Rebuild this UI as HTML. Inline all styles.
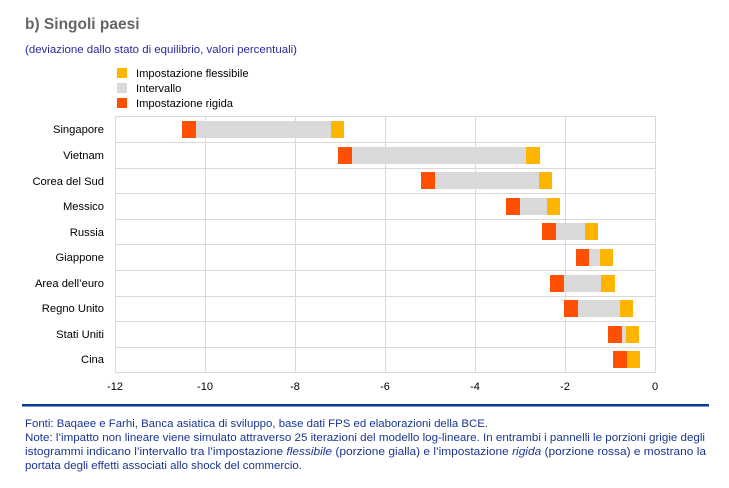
<!DOCTYPE html>
<html><head><meta charset="utf-8"><style>
body{margin:0;background:#fff;width:729px;height:483px;overflow:hidden;font-family:"Liberation Sans",sans-serif}
</style></head><body>
<svg width="729" height="483" xmlns="http://www.w3.org/2000/svg" font-family="Liberation Sans, sans-serif">
<text x="25" y="29" font-size="15.5" font-weight="bold" fill="#666">b) Singoli paesi</text>
<text x="25" y="53" font-size="11.4" fill="#2a2a9a" textLength="272" lengthAdjust="spacingAndGlyphs">(deviazione dallo stato di equilibrio, valori percentuali)</text>
<rect x="117" y="68" width="10" height="10" fill="#ffb400"/>
<text x="136" y="77" font-size="11.2" fill="#000">Impostazione flessibile</text>
<rect x="117" y="83" width="10" height="10" fill="#d9d9d9"/>
<text x="136" y="92" font-size="11.2" fill="#000">Intervallo</text>
<rect x="117" y="98" width="10" height="10" fill="#ff4f00"/>
<text x="136" y="107" font-size="11.2" fill="#000">Impostazione rigida</text>
<g stroke="#d9d9d9" stroke-width="1" fill="none">
<rect x="115.5" y="116.5" width="540" height="256"/>
<line x1="205.5" y1="116" x2="205.5" y2="373"/>
<line x1="295.5" y1="116" x2="295.5" y2="373"/>
<line x1="385.5" y1="116" x2="385.5" y2="373"/>
<line x1="475.5" y1="116" x2="475.5" y2="373"/>
<line x1="565.5" y1="116" x2="565.5" y2="373"/>
<line x1="115" y1="142.5" x2="655" y2="142.5"/>
<line x1="115" y1="168.5" x2="655" y2="168.5"/>
<line x1="115" y1="193.5" x2="655" y2="193.5"/>
<line x1="115" y1="219.5" x2="655" y2="219.5"/>
<line x1="115" y1="244.5" x2="655" y2="244.5"/>
<line x1="115" y1="270.5" x2="655" y2="270.5"/>
<line x1="115" y1="296.5" x2="655" y2="296.5"/>
<line x1="115" y1="321.5" x2="655" y2="321.5"/>
<line x1="115" y1="347.5" x2="655" y2="347.5"/>
</g>
<g font-size="11.2" fill="#000" text-anchor="end">
<text x="104" y="133">Singapore</text>
<text x="104" y="159">Vietnam</text>
<text x="104" y="185">Corea del Sud</text>
<text x="104" y="210">Messico</text>
<text x="104" y="236">Russia</text>
<text x="104" y="261">Giappone</text>
<text x="104" y="287">Area dell’euro</text>
<text x="104" y="312">Regno Unito</text>
<text x="104" y="338">Stati Uniti</text>
<text x="104" y="363">Cina</text>
</g>
<g>
<rect x="182" y="121" width="14" height="17" fill="#ff4f00"/><rect x="196" y="121" width="135" height="17" fill="#d9d9d9"/><rect x="331" y="121" width="13" height="17" fill="#ffb400"/>
<rect x="338" y="147" width="14" height="17" fill="#ff4f00"/><rect x="352" y="147" width="174" height="17" fill="#d9d9d9"/><rect x="526" y="147" width="14" height="17" fill="#ffb400"/>
<rect x="421" y="172" width="14" height="17" fill="#ff4f00"/><rect x="435" y="172" width="104" height="17" fill="#d9d9d9"/><rect x="539" y="172" width="13" height="17" fill="#ffb400"/>
<rect x="506" y="198" width="14" height="17" fill="#ff4f00"/><rect x="520" y="198" width="27" height="17" fill="#d9d9d9"/><rect x="547" y="198" width="13" height="17" fill="#ffb400"/>
<rect x="542" y="223" width="14" height="17" fill="#ff4f00"/><rect x="556" y="223" width="29" height="17" fill="#d9d9d9"/><rect x="585" y="223" width="13" height="17" fill="#ffb400"/>
<rect x="576" y="249" width="13" height="17" fill="#ff4f00"/><rect x="589" y="249" width="11" height="17" fill="#d9d9d9"/><rect x="600" y="249" width="13" height="17" fill="#ffb400"/>
<rect x="550" y="275" width="14" height="17" fill="#ff4f00"/><rect x="564" y="275" width="37" height="17" fill="#d9d9d9"/><rect x="601" y="275" width="14" height="17" fill="#ffb400"/>
<rect x="564" y="300" width="14" height="17" fill="#ff4f00"/><rect x="578" y="300" width="42" height="17" fill="#d9d9d9"/><rect x="620" y="300" width="13" height="17" fill="#ffb400"/>
<rect x="608" y="326" width="14" height="17" fill="#ff4f00"/><rect x="622" y="326" width="4" height="17" fill="#d9d9d9"/><rect x="626" y="326" width="13" height="17" fill="#ffb400"/>
<rect x="613" y="351" width="14" height="17" fill="#ff4f00"/><rect x="627" y="351" width="13" height="17" fill="#ffb400"/>
</g>
<g font-size="11" fill="#000" text-anchor="middle">
<text x="115" y="390">-12</text><text x="205" y="390">-10</text><text x="295" y="390">-8</text>
<text x="385" y="390">-6</text><text x="475" y="390">-4</text><text x="565" y="390">-2</text><text x="655" y="390">0</text>
</g>
<rect x="22" y="404" width="687" height="2.5" fill="#0a3a9a"/>
<g font-size="11.3" fill="#1a3590">
<text x="25" y="427" textLength="463" lengthAdjust="spacingAndGlyphs">Fonti: Baqaee e Farhi, Banca asiatica di sviluppo, base dati FPS ed elaborazioni della BCE.</text>
<text x="25" y="441" textLength="680" lengthAdjust="spacingAndGlyphs">Note: l’impatto non lineare viene simulato attraverso 25 iterazioni del modello log-lineare. In entrambi i pannelli le porzioni grigie degli</text>
<text x="25" y="455" textLength="681" lengthAdjust="spacingAndGlyphs">istogrammi indicano l’intervallo tra l’impostazione <tspan font-style="italic">flessibile</tspan> (porzione gialla) e l’impostazione <tspan font-style="italic">rigida</tspan> (porzione rossa) e mostrano la</text>
<text x="25" y="469" textLength="277" lengthAdjust="spacingAndGlyphs">portata degli effetti associati allo shock del commercio.</text>
</g>
</svg>
</body></html>
